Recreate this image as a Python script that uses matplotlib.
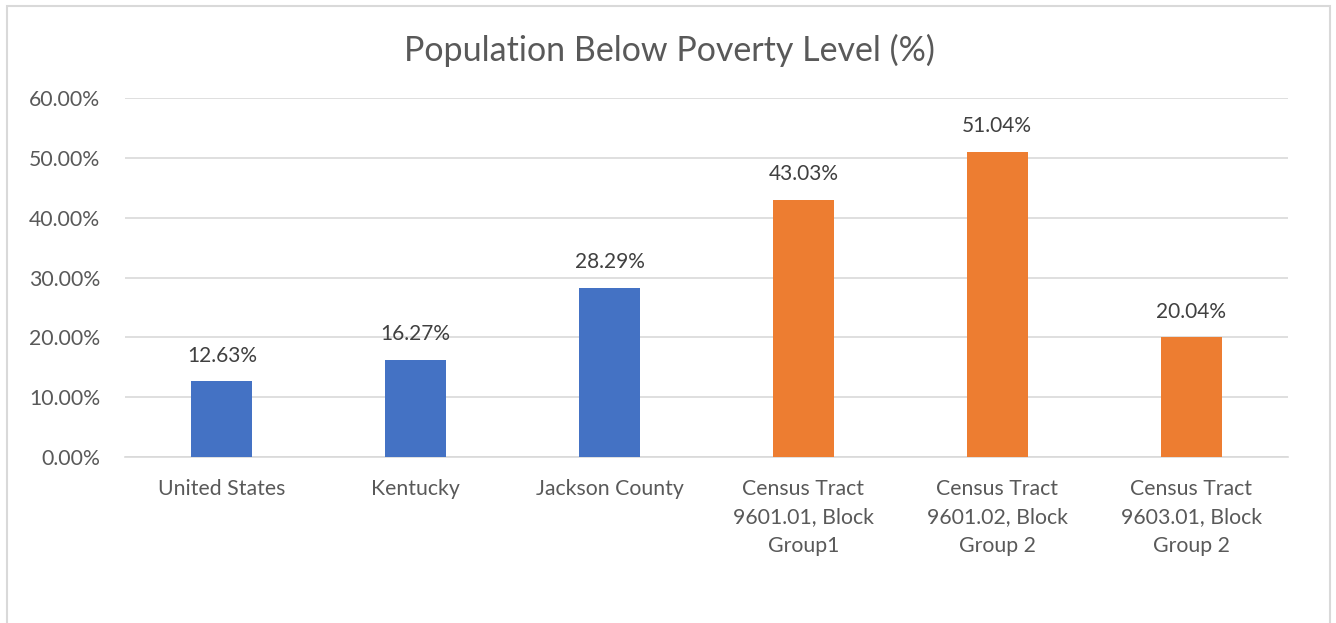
import matplotlib
matplotlib.use("Agg")
import matplotlib.pyplot as plt
from matplotlib.patches import Rectangle
from matplotlib.ticker import FuncFormatter, MultipleLocator

categories = [
    "United States",
    "Kentucky",
    "Jackson County",
    "Census Tract\n9601.01, Block\nGroup1",
    "Census Tract\n9601.02, Block\nGroup 2",
    "Census Tract\n9603.01, Block\nGroup 2",
]
values = [12.63, 16.27, 28.29, 43.03, 51.04, 20.04]
bar_colors = ["#4472C4", "#4472C4", "#4472C4", "#ED7D31", "#ED7D31", "#ED7D31"]

plt.rcParams["font.family"] = ["Lato", "DejaVu Sans"]
text_color = "#595959"

W, H = 1336, 623
fig = plt.figure(figsize=(W / 100, H / 100), dpi=100)
fig.patch.set_facecolor("white")

# chart frame
fig.patches.append(Rectangle((7 / W, -0.1), (1330 - 7) / W, 1.1 - 6 / H,
                             transform=fig.transFigure, fill=False,
                             edgecolor="#D9D9D9", linewidth=1.5))

ax = fig.add_axes([125 / W, 1 - 457 / H, (1288 - 125) / W, (457 - 98) / H])
x = range(len(categories))
ax.bar(x, values, width=0.315, color=bar_colors, zorder=3)
ax.set_xlim(-0.5, len(categories) - 0.5)
ax.set_ylim(0, 60)
ax.yaxis.set_major_locator(MultipleLocator(10))
ax.yaxis.set_major_formatter(FuncFormatter(lambda v, p: f"{v:.2f}%"))
ax.grid(axis="y", color="#D9D9D9", linewidth=1.2, zorder=0)
ax.set_axisbelow(True)
for s in ["top", "right", "left"]:
    ax.spines[s].set_visible(False)
ax.spines["bottom"].set_color("#D9D9D9")
ax.spines["bottom"].set_linewidth(1.2)
ax.tick_params(axis="both", length=0, colors=text_color, labelsize=15.3)
ax.tick_params(axis="y", pad=18)
ax.tick_params(axis="x", pad=16)
ax.set_xticks(list(x))
ax.set_xticklabels(categories, linespacing=1.52)

for xi, v in zip(x, values):
    ax.annotate(f"{v:.2f}%", (xi, v), xytext=(0, 11), textcoords="offset points",
                ha="center", va="bottom", fontsize=15, color="#404040")

fig.text(669 / W, 1 - 50 / H, "Population Below Poverty Level (%)",
         ha="center", va="center", fontsize=24.5, color=text_color)

fig.savefig("out.png", dpi=100)
